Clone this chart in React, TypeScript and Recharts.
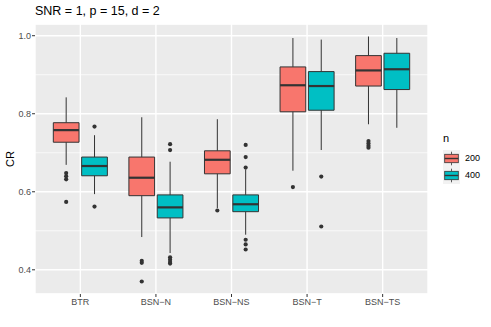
import React from "react";
import {
  CartesianGrid,
  ComposedChart,
  ReferenceArea,
  ReferenceLine,
  Scatter,
  XAxis,
  YAxis,
} from "recharts";

const methods = ["BTR", "BSN\u2212N", "BSN\u2212NS", "BSN\u2212T", "BSN\u2212TS"];
const sampleSizes = ["200", "400"];
const fillColors = ["#F8766D", "#00BFC4"];

// n = 200, one entry per method
const lower200 = [0.669, 0.484, 0.558, 0.654, 0.773];
const q1_200 = [0.727, 0.59, 0.646, 0.805, 0.871];
const median200 = [0.758, 0.636, 0.682, 0.873, 0.911];
const q3_200 = [0.777, 0.689, 0.705, 0.92, 0.949];
const upper200 = [0.842, 0.791, 0.786, 0.994, 0.998];
const outliers200 = [
  [0.648, 0.64, 0.632, 0.574],
  [0.423, 0.418, 0.37],
  [0.552],
  [0.612],
  [0.73, 0.724, 0.718, 0.713],
];

// n = 400
const lower400 = [0.594, 0.443, 0.49, 0.707, 0.764];
const q1_400 = [0.641, 0.533, 0.549, 0.809, 0.862];
const median400 = [0.666, 0.56, 0.568, 0.871, 0.914];
const q3_400 = [0.689, 0.592, 0.592, 0.908, 0.955];
const upper400 = [0.745, 0.677, 0.657, 0.99, 0.994];
const outliers400 = [
  [0.767, 0.562],
  [0.722, 0.707, 0.432, 0.426, 0.42, 0.416],
  [0.72, 0.689, 0.662, 0.477, 0.465, 0.452],
  [0.639, 0.511],
  [],
];

const yTicks = [0.4, 0.6, 0.8, 1.0];
const yMinorTicks = [0.5, 0.7, 0.9];
const xTicks = [1, 2, 3, 4, 5];

const dodge = 0.1875;
const halfWidth = 0.17;
const yDomain = [0.338, 1.03];

const stats = [
  [lower200, q1_200, median200, q3_200, upper200, outliers200],
  [lower400, q1_400, median400, q3_400, upper400, outliers400],
] as const;

const boxes = sampleSizes.flatMap((_, gi) => {
  const [lo, q1, med, q3, hi] = stats[gi];
  return methods.map((_, mi) => ({
    x: mi + 1 + (gi === 0 ? -dodge : dodge),
    lower: lo[mi],
    q1: q1[mi],
    median: med[mi],
    q3: q3[mi],
    upper: hi[mi],
    color: fillColors[gi],
  }));
});

const outlierPoints = sampleSizes.flatMap((_, gi) => {
  const outs = stats[gi][5];
  return methods.flatMap((_, mi) =>
    outs[mi].map((y) => ({ x: mi + 1 + (gi === 0 ? -dodge : dodge), y }))
  );
});

const KeyIcon = ({ color }: { color: string }) => (
  <svg width={17} height={17} style={{ display: "block" }}>
    <rect x={0} y={0} width={17} height={17} fill="#F2F2F2" />
    <line x1={8.5} x2={8.5} y1={1.7} y2={4.3} stroke="#333" strokeWidth={0.8} />
    <line x1={8.5} x2={8.5} y1={12.7} y2={15.3} stroke="#333" strokeWidth={0.8} />
    <rect x={1.7} y={4.3} width={13.6} height={8.4} fill={color} stroke="#333" strokeWidth={0.8} />
    <line x1={1.7} x2={15.3} y1={8.5} y2={8.5} stroke="#333" strokeWidth={1.4} />
  </svg>
);

export default function App() {
  return (
    <div
      style={{
        position: "absolute",
        left: 0,
        top: 0,
        width: 491,
        height: 327,
        background: "#fff",
        fontFamily: "'Liberation Sans', Arial, sans-serif",
      }}
    >
      <div style={{ position: "absolute", left: 35, top: 4, fontSize: 12.5, color: "#000" }}>
        SNR = 1, p = 15, d = 2
      </div>
      <ComposedChart width={491} height={327} margin={{ top: 24, right: 63, bottom: 13, left: 0 }}>
        <CartesianGrid fill="#EBEBEB" stroke="#FFFFFF" strokeWidth={1.4} />
        <CartesianGrid yAxisId="minor" vertical={false} stroke="#FFFFFF" strokeWidth={0.7} />
        <XAxis
          type="number"
          dataKey="x"
          domain={[0.4, 5.6]}
          ticks={xTicks}
          tickFormatter={(v) => methods[v - 1]}
          axisLine={false}
          tickLine={{ stroke: "#333333" }}
          tickSize={3}
          tickMargin={2}
          height={20}
          tick={{ fontSize: 9, fill: "#4D4D4D" }}
          interval={0}
        />
        <YAxis
          type="number"
          dataKey="y"
          domain={yDomain}
          ticks={yTicks}
          tickFormatter={(v) => v.toFixed(1)}
          axisLine={false}
          tickLine={{ stroke: "#333333" }}
          tickSize={3}
          tickMargin={1}
          width={35}
          tick={{ fontSize: 9, fill: "#4D4D4D" }}
          interval={0}
          allowDataOverflow
          label={{
            content: ({ viewBox }: any) => {
              const cx = 10;
              const cy = viewBox.y + viewBox.height / 2;
              return (
                <text
                  x={cx}
                  y={cy}
                  transform={`rotate(-90, ${cx}, ${cy})`}
                  textAnchor="middle"
                  dominantBaseline="central"
                  fontSize={11}
                  fill="#000"
                >
                  CR
                </text>
              );
            },
          }}
        />
        <YAxis yAxisId="minor" type="number" domain={yDomain} ticks={yMinorTicks} hide allowDataOverflow />
        {boxes.map((b, i) => (
          <React.Fragment key={i}>
            <ReferenceLine
              segment={[{ x: b.x, y: b.lower }, { x: b.x, y: b.q1 }]}
              stroke="#333333"
              strokeWidth={1}
            />
            <ReferenceLine
              segment={[{ x: b.x, y: b.q3 }, { x: b.x, y: b.upper }]}
              stroke="#333333"
              strokeWidth={1}
            />
            <ReferenceArea
              x1={b.x - halfWidth}
              x2={b.x + halfWidth}
              y1={b.q1}
              y2={b.q3}
              fill={b.color}
              fillOpacity={1}
              stroke="#333333"
              strokeWidth={1}
            />
            <ReferenceLine
              segment={[{ x: b.x - halfWidth, y: b.median }, { x: b.x + halfWidth, y: b.median }]}
              stroke="#333333"
              strokeWidth={2.2}
            />
          </React.Fragment>
        ))}
        <Scatter
          data={outlierPoints}
          dataKey="y"
          isAnimationActive={false}
          shape={(p: any) => <circle cx={p.cx} cy={p.cy} r={2.1} fill="#333333" />}
        />
      </ComposedChart>
      <div style={{ position: "absolute", left: 443, top: 132, fontSize: 11, color: "#000" }}>n</div>
      {sampleSizes.map((s, i) => (
        <div
          key={s}
          style={{
            position: "absolute",
            left: 443,
            top: 149.5 + i * 17.3,
            display: "flex",
            alignItems: "center",
            fontSize: 9,
            color: "#000",
          }}
        >
          <KeyIcon color={fillColors[i]} />
          <span style={{ marginLeft: 5 }}>{s}</span>
        </div>
      ))}
    </div>
  );
}
